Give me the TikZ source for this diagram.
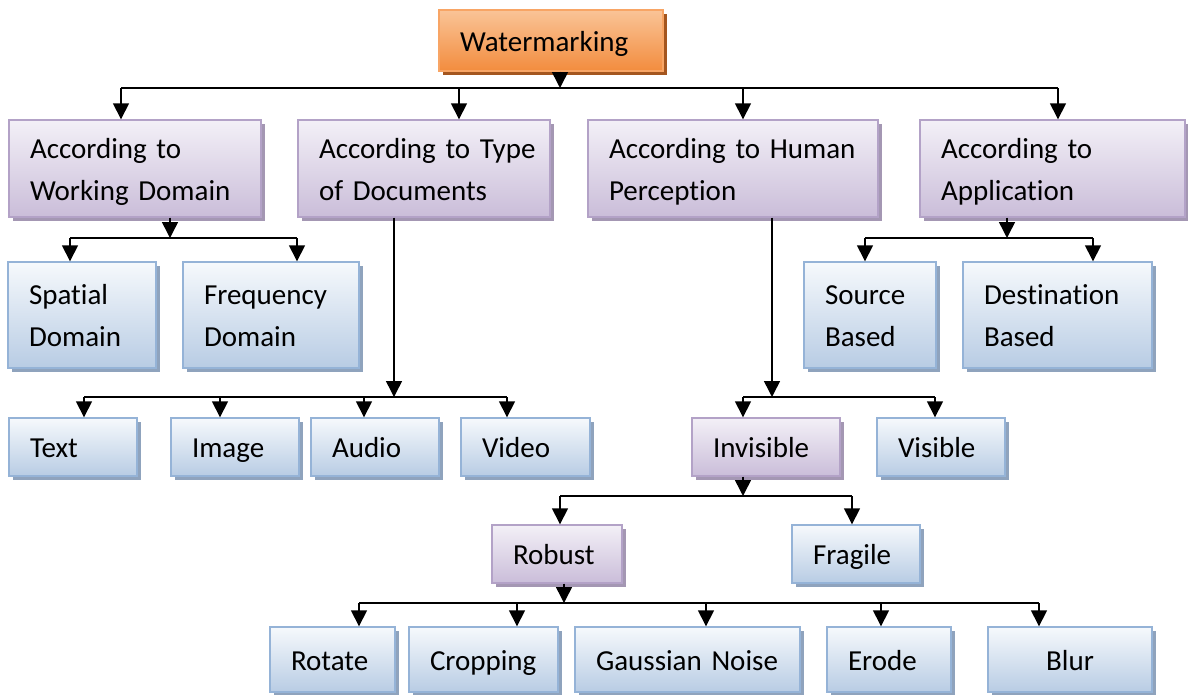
\documentclass[tikz,border=0pt]{standalone}
\usepackage{fontspec}
\setmainfont{Carlito}[RawFeature={-liga}]
\usetikzlibrary{arrows.meta,shadows}

\definecolor{pborder}{HTML}{B3A2C7}
\definecolor{ptop}{HTML}{F3F0F7}
\definecolor{pbot}{HTML}{CABDD9}
\definecolor{pshadow}{HTML}{A497B3}
\definecolor{bborder}{HTML}{95B3D7}
\definecolor{btop}{HTML}{F6F9FC}
\definecolor{bbot}{HTML}{B8CCE4}
\definecolor{bshadow}{HTML}{8FA3BD}
\definecolor{oborder}{HTML}{F8A565}
\definecolor{otop}{HTML}{FAC497}
\definecolor{obot}{HTML}{F28C3E}
\definecolor{oshadow}{HTML}{A4561F}

\tikzset{
  box/.style={rectangle, line width=1.4pt, inner xsep=21pt, inner ysep=0pt,
    align=left, font=\fontsize{29}{42}\selectfont, text=black,
    text height=22pt, text depth=1pt},
  twoline/.style={text depth=43pt},
  pbox/.style={box, draw=pborder, top color=ptop, bottom color=pbot,
    drop shadow={shadow xshift=4pt, shadow yshift=-4pt, fill=pshadow, opacity=1}},
  bbox/.style={box, draw=bborder, top color=btop, bottom color=bbot,
    drop shadow={shadow xshift=4pt, shadow yshift=-4pt, fill=bshadow, opacity=1}},
  obox/.style={box, draw=oborder, top color=otop, bottom color=obot,
    drop shadow={shadow xshift=4pt, shadow yshift=-4pt, fill=oshadow, opacity=1}},
  ln/.style={line width=1.5pt, black},
  arr/.style={ln, -{Triangle[width=16pt,length=16pt]}},
}

\begin{document}
\begin{tikzpicture}[x=1pt,y=-1pt]
\useasboundingbox (0,0) rectangle (1188,694);

% root
\node[obox, minimum width=224pt, minimum height=61pt, text width=182pt] (root) at (551,40.5) {Watermarking};

% first level: classification criteria
\node[pbox, twoline, minimum width=252pt, minimum height=97pt, text width=210pt] (a1) at (135,168.5) {\mbox{According to}\\\mbox{Working Domain}};
\node[pbox, twoline, minimum width=252pt, minimum height=97pt, text width=210pt] (a2) at (424,168.5) {\mbox{According to Type}\\\mbox{of Documents}};
\node[pbox, twoline, minimum width=290pt, minimum height=97pt, text width=248pt] (a3) at (733,168.5) {\mbox{According to Human}\\\mbox{Perception}};
\node[pbox, twoline, minimum width=265pt, minimum height=97pt, text width=223pt] (a4) at (1052.5,168.5) {\mbox{According to}\\\mbox{Application}};

% working domain / application
\node[bbox, twoline, minimum width=148pt, minimum height=106pt, text width=106pt] (sd) at (82,315) {Spatial\\Domain};
\node[bbox, twoline, minimum width=176pt, minimum height=106pt, text width=134pt] (fd) at (271,315) {Frequency\\Domain};
\node[bbox, twoline, minimum width=132pt, minimum height=106pt, text width=90pt] (src) at (870,315) {Source\\Based};
\node[bbox, twoline, minimum width=189pt, minimum height=106pt, text width=147pt] (dst) at (1057.5,315) {Destination\\Based};

% document types
\node[bbox, minimum width=128pt, minimum height=58pt, text width=86pt] (txt) at (73,447) {Text};
\node[bbox, minimum width=128pt, minimum height=58pt, text width=86pt] (img) at (235,447) {Image};
\node[bbox, minimum width=128pt, minimum height=58pt, text width=86pt] (aud) at (375,447) {Audio};
\node[bbox, minimum width=129pt, minimum height=58pt, text width=87pt] (vid) at (525.5,447) {Video};

% human perception
\node[pbox, minimum width=148pt, minimum height=58pt, text width=106pt] (inv) at (766,447) {Invisible};
\node[bbox, minimum width=128pt, minimum height=58pt, text width=86pt] (vis) at (941,447) {Visible};
\node[pbox, minimum width=130pt, minimum height=58pt, text width=88pt] (rob) at (557,554) {Robust};
\node[bbox, minimum width=128pt, minimum height=58pt, text width=86pt] (fra) at (856,554) {Fragile};

% attacks
\node[bbox, minimum width=125pt, minimum height=65pt, text width=83pt] (rot) at (332.5,659.5) {Rotate};
\node[bbox, minimum width=149pt, minimum height=65pt, text width=107pt] (crp) at (483.5,659.5) {Cropping};
\node[bbox, minimum width=225pt, minimum height=65pt, text width=183pt] (gau) at (687.5,659.5) {\mbox{Gaussian Noise}};
\node[bbox, minimum width=124pt, minimum height=65pt, text width=82pt] (ero) at (889,659.5) {Erode};
\node[bbox, align=center, minimum width=164pt, minimum height=65pt, text width=122pt] (blr) at (1070,659.5) {Blur};

% bus junctions
\coordinate (j0) at (560,88);
\coordinate (j1) at (170,238);
\coordinate (j2) at (394,397);
\coordinate (j3) at (772,397);
\coordinate (j4) at (1007,238);
\coordinate (j5) at (743,496);
\coordinate (j6) at (564,603);

% root -> criteria
\draw[arr] (root.south -| j0) -- (j0);
\draw[ln] ([xshift=-14pt]a1.north |- j0) -- ([xshift=5.5pt]a4.north |- j0);
\draw[arr] ([xshift=-14pt]a1.north |- j0) -- ([xshift=-14pt]a1.north);
\draw[arr] ([xshift=35pt]a2.north |- j0) -- ([xshift=35pt]a2.north);
\draw[arr] ([xshift=10pt]a3.north |- j0) -- ([xshift=10pt]a3.north);
\draw[arr] ([xshift=5.5pt]a4.north |- j0) -- ([xshift=5.5pt]a4.north);

% working domain
\draw[arr] (a1.south -| j1) -- (j1);
\draw[ln] ([xshift=-12pt]sd.north |- j1) -- ([xshift=26pt]fd.north |- j1);
\draw[arr] ([xshift=-12pt]sd.north |- j1) -- ([xshift=-12pt]sd.north);
\draw[arr] ([xshift=26pt]fd.north |- j1) -- ([xshift=26pt]fd.north);

% type of documents
\draw[arr] (a2.south -| j2) -- (j2);
\draw[ln] ([xshift=11pt]txt.north |- j2) -- ([xshift=-18.5pt]vid.north |- j2);
\draw[arr] ([xshift=11pt]txt.north |- j2) -- ([xshift=11pt]txt.north);
\draw[arr] ([xshift=-15pt]img.north |- j2) -- ([xshift=-15pt]img.north);
\draw[arr] ([xshift=-11pt]aud.north |- j2) -- ([xshift=-11pt]aud.north);
\draw[arr] ([xshift=-18.5pt]vid.north |- j2) -- ([xshift=-18.5pt]vid.north);

% human perception
\draw[arr] (a3.south -| j3) -- (j3);
\draw[ln] ([xshift=-23pt]inv.north |- j3) -- ([xshift=-6pt]vis.north |- j3);
\draw[arr] ([xshift=-23pt]inv.north |- j3) -- ([xshift=-23pt]inv.north);
\draw[arr] ([xshift=-6pt]vis.north |- j3) -- ([xshift=-6pt]vis.north);

% application
\draw[arr] (a4.south -| j4) -- (j4);
\draw[ln] ([xshift=-5pt]src.north |- j4) -- ([xshift=35.5pt]dst.north |- j4);
\draw[arr] ([xshift=-5pt]src.north |- j4) -- ([xshift=-5pt]src.north);
\draw[arr] ([xshift=35.5pt]dst.north |- j4) -- ([xshift=35.5pt]dst.north);

% invisible
\draw[arr] (inv.south -| j5) -- (j5);
\draw[ln] ([xshift=3pt]rob.north |- j5) -- ([xshift=-4pt]fra.north |- j5);
\draw[arr] ([xshift=3pt]rob.north |- j5) -- ([xshift=3pt]rob.north);
\draw[arr] ([xshift=-4pt]fra.north |- j5) -- ([xshift=-4pt]fra.north);

% robust
\draw[arr] (rob.south -| j6) -- (j6);
\draw[ln] ([xshift=26.5pt]rot.north |- j6) -- ([xshift=-31pt]blr.north |- j6);
\draw[arr] ([xshift=26.5pt]rot.north |- j6) -- ([xshift=26.5pt]rot.north);
\draw[arr] ([xshift=33.5pt]crp.north |- j6) -- ([xshift=33.5pt]crp.north);
\draw[arr] ([xshift=18.5pt]gau.north |- j6) -- ([xshift=18.5pt]gau.north);
\draw[arr] ([xshift=-8pt]ero.north |- j6) -- ([xshift=-8pt]ero.north);
\draw[arr] ([xshift=-31pt]blr.north |- j6) -- ([xshift=-31pt]blr.north);
\end{tikzpicture}
\end{document}
